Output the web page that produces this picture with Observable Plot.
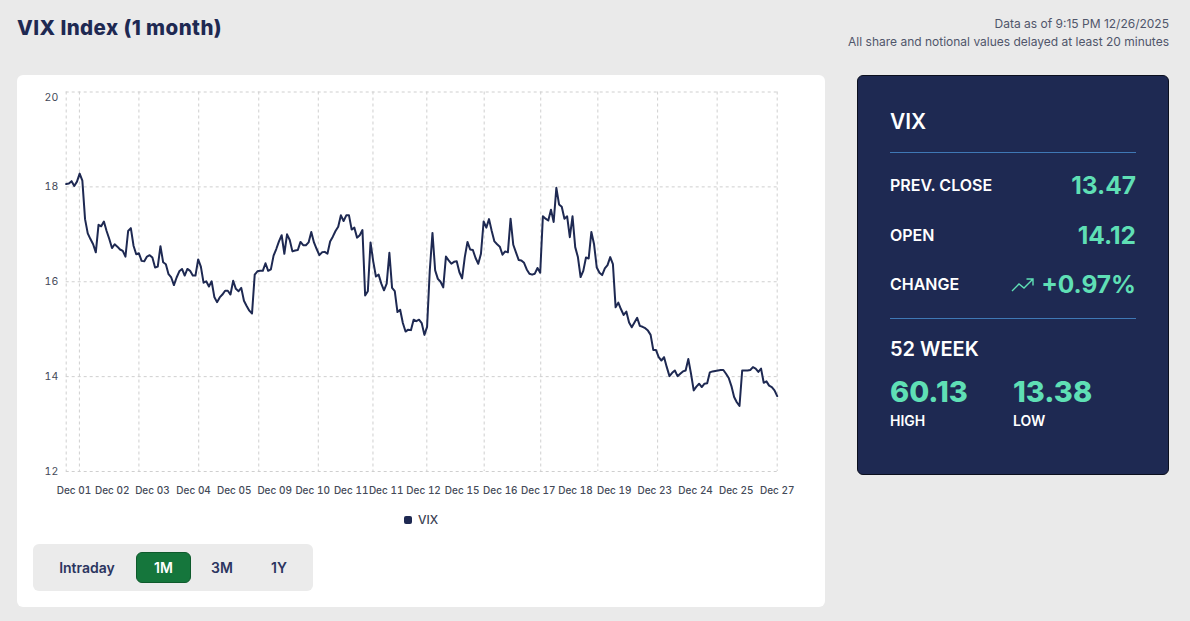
<!DOCTYPE html>
<html><head><meta charset="utf-8">
<script src="https://cdn.jsdelivr.net/npm/d3@7"></script>
<script src="https://cdn.jsdelivr.net/npm/@observablehq/plot@0.6"></script>
<style>
html,body{margin:0;padding:0;width:1190px;height:621px;overflow:hidden;background:#eaeaea;font-family:Inter,sans-serif}
.abs{position:absolute;white-space:nowrap}
#title{left:17px;top:15px;font-size:20.5px;font-weight:800;color:#1e2952;font-family:Inter;letter-spacing:.42px}
.meta{right:21px;font-size:12px;color:#50566a;line-height:16px}
#card{left:17px;top:75px;width:808px;height:532px;background:#fff;border-radius:6px}
#chart{left:0;top:0}
#chart svg{display:block}
#legend{left:387px;top:437px;font-size:12px;color:#3c4254;display:flex;align-items:center;gap:6px;font-weight:500}
#legend i{display:block;width:8px;height:8px;border-radius:2px;background:#1e2952}
#pills{left:16px;top:469px;width:280px;height:47px;background:#ebebeb;border-radius:6px}
.pill{position:absolute;top:8px;height:31px;line-height:31px;text-align:center;font-size:14px;font-weight:600;color:#2b3560}
.on{background:#15763c;color:#fff;border:1px solid #0e5a2c;border-radius:6px;box-sizing:border-box;line-height:29px}
#side{left:857px;top:75px;width:312px;height:400px;box-sizing:border-box;background:#1e2952;border:1px solid #0b0f1e;border-radius:6px;color:#fff}
#side .abs{font-weight:600}
.rule{position:absolute;left:32px;width:246px;height:1px;background:#3f78b5}
.lab{left:32px;font-size:16px}
#side .val{right:32px;color:#5fdfb5;font-size:24.5px;font-weight:700}
#side .big{color:#5fdfb5;font-size:29px;font-weight:800}
.sub{font-size:14px}
</style></head><body>
<div class="abs" id="title">VIX Index (1 month)</div>
<div class="abs meta" style="top:16px">Data as of 9:15 PM 12/26/2025</div>
<div class="abs meta" style="top:34px">All share and notional values delayed at least 20 minutes</div>
<div class="abs" id="card">
  <div class="abs" id="chart"></div>
  <div class="abs" id="legend"><i></i><span>VIX</span></div>
  <div class="abs" id="pills">
    <div class="pill" style="left:14px;width:80px">Intraday</div>
    <div class="pill on" style="left:103px;width:55px">1M</div>
    <div class="pill" style="left:169px;width:40px">3M</div>
    <div class="pill" style="left:226px;width:40px">1Y</div>
  </div>
</div>
<div class="abs" id="side">
  <div class="abs" style="left:32px;top:33px;font-size:21px">VIX</div>
  <div class="rule" style="top:76px"></div>
  <div class="abs lab" style="top:99px">PREV. CLOSE</div>
  <div class="abs val" style="top:94px">13.47</div>
  <div class="abs lab" style="top:149px">OPEN</div>
  <div class="abs val" style="top:144px">14.12</div>
  <div class="abs lab" style="top:198px">CHANGE</div>
  <svg class="abs" style="left:153px;top:200px" width="24" height="18" viewBox="0 0 24 18" fill="none" stroke="#5fdfb5" stroke-width="1.4"><path d="M1 15 L8 8 L13 12 L22 3 M15.5 3 H22 V9.5"/></svg>
  <div class="abs val" style="top:193px">+0.97%</div>
  <div class="rule" style="top:242px"></div>
  <div class="abs" style="left:32px;top:261px;font-size:20px">52 WEEK</div>
  <div class="abs big" style="left:32px;top:298px">60.13</div>
  <div class="abs big" style="left:155px;top:298px">13.38</div>
  <div class="abs sub" style="left:32px;top:336px">HIGH</div>
  <div class="abs sub" style="left:155px;top:336px">LOW</div>
</div>
<script>
const vix = [
18.06,18.07,18.12,18.02,18.11,18.28,18.13,17.32,17.02,16.90,16.79,16.62,17.20,17.17,17.27,17.07,16.90,16.71,16.79,16.74,
16.68,16.65,16.53,17.07,17.13,16.76,16.58,16.60,16.44,16.43,16.53,16.56,16.51,16.30,16.32,16.75,16.41,16.37,16.16,16.09,
15.93,16.09,16.22,16.27,16.13,16.27,16.23,16.13,16.13,16.47,16.32,15.98,16.01,15.90,16.01,15.68,15.57,15.67,15.73,15.81,
15.81,15.73,16.02,15.85,15.80,15.87,15.60,15.49,15.39,15.33,16.15,16.22,16.23,16.23,16.39,16.23,16.26,16.55,16.69,16.85,
16.98,16.59,17.00,16.88,16.64,16.66,16.67,16.84,16.77,16.77,16.83,17.05,16.83,16.69,16.56,16.62,16.63,16.59,16.85,16.95,
17.07,17.16,17.40,17.28,17.40,17.40,17.10,17.14,16.93,16.98,17.09,15.71,15.80,16.83,16.43,16.11,16.15,15.96,15.82,15.96,
16.61,15.87,15.80,15.36,15.41,15.13,14.95,14.99,14.98,15.20,15.17,15.20,15.13,14.88,15.05,16.24,17.03,16.24,16.06,
16.00,15.88,16.53,16.45,16.38,16.42,16.43,16.20,16.07,16.52,16.84,16.68,16.67,16.50,16.38,16.59,17.27,17.14,17.32,17.07,
16.85,16.79,16.74,16.57,16.64,16.62,17.33,16.78,16.62,16.46,16.45,16.40,16.26,16.17,16.15,16.17,16.29,16.19,17.38,17.33,
17.29,17.52,17.26,17.98,17.63,17.58,17.33,17.38,16.94,17.38,16.73,16.52,16.10,16.23,16.51,16.49,17.05,16.79,16.30,16.19,
16.14,16.28,16.35,16.52,16.37,15.46,15.56,15.42,15.30,15.37,15.14,15.04,15.14,15.24,15.07,15.05,15.02,14.97,14.88,14.56,
14.56,14.41,14.34,14.41,14.20,14.01,14.08,14.13,14.01,14.06,14.11,14.13,14.37,14.06,13.71,13.79,13.85,13.78,13.85,13.86,
14.09,14.11,14.12,14.13,14.14,14.14,14.06,13.97,13.80,13.57,13.46,13.38,14.13,14.13,14.13,14.14,14.20,14.17,14.10,14.17,13.87,
13.90,13.81,13.78,13.71,13.59];
const sample = vix.map((_, i) => i);
const gridSamples = [0,4.9,27,49.2,71.5,93.6,113.9,133.9,155.2,176.2,197.4,219.6,241.7,264];
const tickSamples = [2.9,17.1,32,47.3,62.4,77.4,91.5,105.8,118.8,132.7,147,161.2,175.3,189.1,203.5,218.5,233.7,248.8,264];
const tickLabels = ["Dec 01","Dec 02","Dec 03","Dec 04","Dec 05","Dec 09","Dec 10","Dec 11","Dec 11","Dec 12","Dec 15","Dec 16","Dec 17","Dec 18","Dec 19","Dec 23","Dec 24","Dec 25","Dec 27"];
const yTicks = [12,14,16,18,20];

const grid = {stroke:"#cfcfcf", strokeOpacity:1, strokeDasharray:"3,3", strokeWidth:1};
const plot = Plot.plot({
  width:808, height:450, marginLeft:48.7, marginRight:48.3, marginTop:16.5, marginBottom:54,
  style:{background:"transparent", fontFamily:"Inter"},
  x:{domain:[0,264], label:null},
  y:{domain:[12,20], label:null},
  marks:[
    Plot.gridX(gridSamples, grid),
    Plot.gridY(yTicks, grid),
    Plot.axisY(yTicks.slice(0,4), {tickSize:0, tickPadding:8, fontSize:10.5, fill:"#444a58", label:null}),
    Plot.axisY(yTicks.slice(4), {tickSize:0, tickPadding:8, fontSize:10.5, fill:"#444a58", label:null, dy:6}),
    Plot.axisX(tickSamples, {tickSize:0, tickPadding:15, fontSize:10, fill:"#444a58", fontWeight:500, label:null,
      tickFormat:(d)=>tickLabels[tickSamples.indexOf(d)]}),
    Plot.line(sample, {x:d=>d, y:d=>vix[d], stroke:"#1e2952", strokeWidth:2, curve:"linear"})
  ]
});
document.getElementById("chart").appendChild(plot);
</script>
</body></html>
